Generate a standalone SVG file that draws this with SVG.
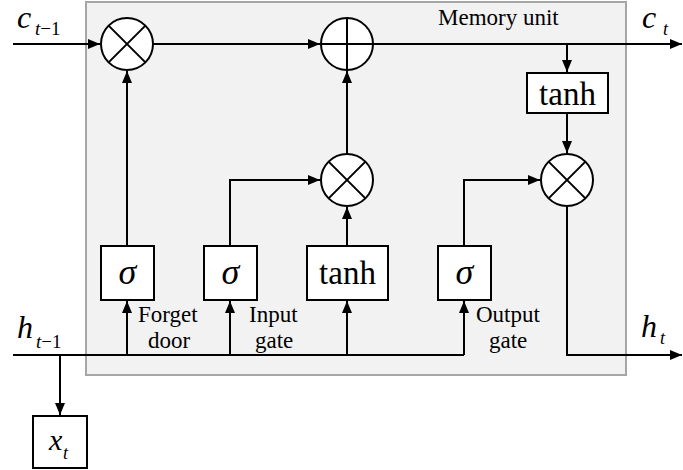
<svg xmlns="http://www.w3.org/2000/svg" width="683" height="470" viewBox="0 0 683 470">
<defs>
<marker id="arr" markerWidth="12" markerHeight="10" refX="12" refY="5" orient="auto" markerUnits="userSpaceOnUse">
<path d="M0,0 L12,5 L0,10 Z" fill="#000"/>
</marker>
</defs>
<style>
.ln{stroke:#000;stroke-width:2;fill:none}
.bx{stroke:#000;stroke-width:2;fill:#fff}
.t{font-family:"Liberation Serif","Times New Roman",serif;fill:#000}
.it{font-style:italic}
</style>
<rect x="86" y="2" width="540" height="373" fill="#f2f2f2" stroke="#a6a6a6" stroke-width="2"/>
<text class="t" x="438" y="25" font-size="23">Memory unit</text>
<g id="connectors">
<path class="ln" d="M13,44 H100" marker-end="url(#arr)"/>
<path class="ln" d="M153,44 H320" marker-end="url(#arr)"/>
<path class="ln" d="M373,44 H682" marker-end="url(#arr)"/>
<path class="ln" d="M567,44 V72" marker-end="url(#arr)"/>
<path class="ln" d="M567,113 V153" marker-end="url(#arr)"/>
<path class="ln" d="M567,206 V355 H682" marker-end="url(#arr)"/>
<path class="ln" d="M347,154 V71" marker-end="url(#arr)"/>
<path class="ln" d="M347,246 V207" marker-end="url(#arr)"/>
<path class="ln" d="M230,246 V180 H320" marker-end="url(#arr)"/>
<path class="ln" d="M464,246 V180 H540" marker-end="url(#arr)"/>
<path class="ln" d="M127,246 V71" marker-end="url(#arr)"/>
<path class="ln" d="M13,355 H464"/>
<path class="ln" d="M127,355 V301" marker-end="url(#arr)"/>
<path class="ln" d="M230,355 V301" marker-end="url(#arr)"/>
<path class="ln" d="M347,355 V301" marker-end="url(#arr)"/>
<path class="ln" d="M464,355 V301" marker-end="url(#arr)"/>
<path class="ln" d="M60,355 V415" marker-end="url(#arr)"/>
</g>
<g id="mul1">
<circle class="bx" cx="127" cy="44" r="26"/>
<path class="ln" d="M108.6,25.6 L145.4,62.4 M145.4,25.6 L108.6,62.4"/>
</g>
<g id="add1">
<circle class="bx" cx="347" cy="44" r="26"/>
<path class="ln" d="M321,44 H373 M347,18 V70"/>
</g>
<g id="mul2">
<circle class="bx" cx="347" cy="180" r="26"/>
<path class="ln" d="M328.6,161.6 L365.4,198.4 M365.4,161.6 L328.6,198.4"/>
</g>
<g id="mul3">
<circle class="bx" cx="567" cy="180" r="26"/>
<path class="ln" d="M548.6,161.6 L585.4,198.4 M585.4,161.6 L548.6,198.4"/>
</g>
<g id="tanh-out">
<rect class="bx" x="527" y="73" width="81" height="40"/>
<text class="t" x="567.5" y="105" font-size="33" text-anchor="middle">tanh</text>
</g>
<g id="sigma-forget">
<rect class="bx" x="101" y="246" width="53" height="54"/>
<text class="t it" x="127.5" y="284" font-size="36" text-anchor="middle">σ</text>
</g>
<g id="sigma-input">
<rect class="bx" x="204" y="246" width="53" height="54"/>
<text class="t it" x="230.5" y="284" font-size="36" text-anchor="middle">σ</text>
</g>
<g id="tanh-in">
<rect class="bx" x="307" y="246" width="81" height="54"/>
<text class="t" x="347.5" y="284" font-size="33" text-anchor="middle">tanh</text>
</g>
<g id="sigma-output">
<rect class="bx" x="438" y="246" width="53" height="54"/>
<text class="t it" x="464.5" y="284" font-size="36" text-anchor="middle">σ</text>
</g>
<g id="xt">
<rect class="bx" x="33" y="416" width="54" height="52"/>
<text class="t it" x="49" y="450" font-size="30">x</text>
<text class="t it" x="63" y="459" font-size="18">t</text>
</g>
<g id="labels">
<text class="t" x="138" y="322" font-size="23">Forget</text>
<text class="t" x="148" y="348" font-size="23">door</text>
<text class="t" x="249" y="322" font-size="23">Input</text>
<text class="t" x="255" y="348" font-size="23">gate</text>
<text class="t" x="476" y="322" font-size="23">Output</text>
<text class="t" x="489" y="348" font-size="23">gate</text>
<text class="t it" x="17" y="28" font-size="32">c</text>
<text class="t it" x="35" y="35" font-size="19">t<tspan font-style="normal">−1</tspan></text>
<text class="t it" x="17" y="338" font-size="32">h</text>
<text class="t it" x="36" y="348" font-size="19">t<tspan font-style="normal">−1</tspan></text>
<text class="t it" x="642" y="28" font-size="32">c</text>
<text class="t it" x="663" y="35" font-size="18">t</text>
<text class="t it" x="641" y="337" font-size="32">h</text>
<text class="t it" x="660" y="344" font-size="18">t</text>
</g>
</svg>
